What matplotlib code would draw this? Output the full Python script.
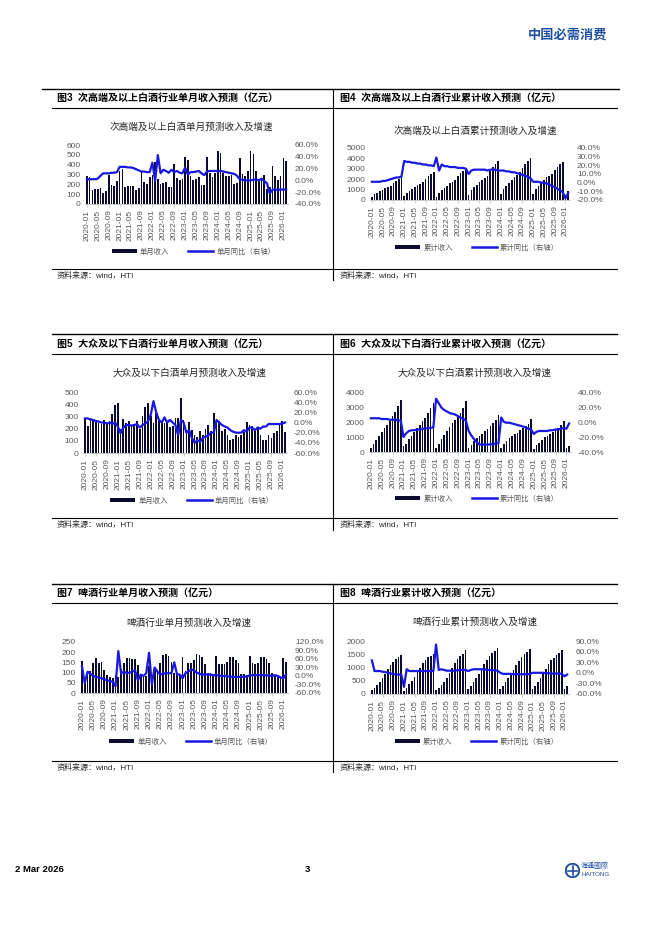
import numpy as np
import matplotlib
matplotlib.use("Agg")
import matplotlib.pyplot as plt
from matplotlib.lines import Line2D
from matplotlib.patches import Patch, Circle

plt.rcParams['font.family'] = ['Liberation Sans', 'Noto Sans CJK SC', 'DejaVu Sans']
plt.rcParams['axes.unicode_minus'] = False

W, H = 662, 936
BAR = '#0b0b30'
LINE = '#1818e0'
GREY = '#595959'

# months 2020-01 .. 2026-02
months = [f"{y}-{m:02d}" for y in range(2020, 2027) for m in range(1, 13)][:74]
tick_pos = list(range(0, 74, 4))
tick_lab = [months[i] for i in tick_pos]

# 图3 次高端及以上 单月收入 (亿元) / 单月同比 (%)
hi_month = [280, 270, 140, 150, 150, 160, 115, 135, 290, 195, 180, 230,
            340, 360, 170, 180, 180, 180, 140, 160, 340, 220, 200, 270,
            300, 430, 250, 200, 210, 220, 170, 170, 410, 260, 240, 250,
            480, 450, 280, 240, 250, 270, 190, 190, 480, 320, 270, 320,
            540, 520, 320, 280, 280, 300, 200, 210, 470, 310, 280, 340,
            540, 510, 340, 250, 260, 300, 150, 170, 390, 280, 240, 280,
            470, 440]
hi_month_yoy = [2, 2, 2, 2, 3, 8, 12, 12, 12, 13, 13, 14,
                23, 23, 23, 22, 22, 21, 19, 17, 15, 15, 14, 14,
                30, -1, 43, 12, 18, 16, 13, 18, 14, 16, 13, 12,
                22, 10, 14, 14, 15, 16, 12, 9, 15, 16, 16, 16,
                16, 16, 15, 14, 13, 12, 11, 8, 2, 1, 0, 0,
                0, 1, 2, 0, 3, -1, -5, -22, -16, -15, -17, -15,
                -16, -15]

# 图4 次高端及以上 累计收入 / 累计同比
hi_cum = [270, 530, 680, 830, 980, 1130, 1250, 1380, 1650, 1840, 2010, 2200,
          340, 700, 870, 1050, 1230, 1410, 1550, 1710, 2050, 2270, 2470, 2740,
          300, 720, 960, 1160, 1370, 1590, 1760, 1930, 2330, 2580, 2810, 3010,
          480, 930, 1210, 1450, 1700, 1970, 2160, 2350, 2830, 3150, 3420, 3720,
          540, 1060, 1380, 1660, 1940, 2240, 2440, 2650, 3120, 3430, 3710, 4000,
          540, 1050, 1390, 1640, 1900, 2200, 2350, 2520, 2910, 3190, 3430, 3650,
          470, 910]
hi_cum_yoy = [1, 1, 1, 1, 2, 2, 3, 4, 5, 6, 6, 7,
              25, 24, 24, 23, 23, 22, 22, 21, 21, 20, 20, 19,
              29, 14, 21, 19, 19, 18, 18, 18, 17, 17, 17, 16,
              10, 14, 15, 15, 15, 15, 15, 14, 15, 15, 15, 14,
              14, 14, 13, 13, 12, 12, 11, 10, 9, 8, 7, 5,
              1, 1, 1, 0, 0, -1, -2, -4, -5, -7, -9, -11,
              -18, -12]

# 图5 大众及以下 单月收入 / 单月同比
mass_month = [285, 220, 290, 260, 255, 250, 240, 270, 245, 260, 320, 390,
              410, 200, 280, 250, 260, 220, 240, 260, 200, 300, 380, 410,
              300, 250, 330, 270, 260, 250, 250, 210, 220, 290, 290, 450,
              270, 190, 255, 190, 150, 130, 180, 150, 200, 230, 180, 330,
              280, 260, 180, 200, 150, 110, 115, 150, 130, 150, 170, 255,
              230, 220, 180, 200, 150, 110, 110, 150, 120, 160, 180, 240,
              260, 175]
mass_month_yoy = [8, 8, 6, 5, 3, 2, 0, 0, -2, 0, -3, 0,
                  -8, -21, -10, -5, -5, -6, -5, -3, -10, -5, -2, 2,
                  15, 42, 20, 5, 0, 10, 0, 5, 0, -5, -25, 5,
                  0, -20, -15, -30, -40, -35, -38, -30, -28, -25, -20, -20,
                  5, 0, -5, -8, -10, -15, -18, -20, -20, -20, -15, -18,
                  -10, -10, -15, -10, -12, -8, -8, -3, -3, -3, -3, -3,
                  -2, 0]

# 图6 大众及以下 累计收入 / 累计同比
mass_cum = [290, 510, 800, 1070, 1330, 1580, 1820, 2100, 2400, 2700, 3070, 3450,
            380, 560, 840, 1090, 1350, 1570, 1810, 2070, 2270, 2570, 2950, 3300,
            300, 550, 880, 1150, 1410, 1660, 1910, 2120, 2340, 2630, 2920, 3370,
            270, 460, 720, 910, 1060, 1190, 1370, 1520, 1720, 1950, 2130, 2460,
            280, 540, 720, 920, 1070, 1180, 1300, 1450, 1580, 1730, 1900, 2180,
            230, 450, 630, 830, 980, 1090, 1200, 1350, 1470, 1630, 1810, 2080,
            250, 400]
mass_cum_yoy = [5, 5, 5, 5, 4, 4, 4, 3, 3, 3, 2, 2,
                -20, -15, -12, -11, -11, -10, -10, -9, -9, -8, -8, -7,
                31, 25, 19, 16, 14, 12, 11, 10, 8, 6, 4, 2,
                -12, -18, -23, -27, -30, -30, -30, -30, -30, -29, -29, -28,
                6, 0, -1, -1, -2, -3, -4, -5, -6, -7, -9, -10,
                -16, -13, -12, -12, -12, -12, -11, -11, -10, -10, -9, -8,
                -9, -2]

# 图7 啤酒 单月收入 / 单月同比
beer_month = [155, 75, 105, 110, 145, 170, 145, 150, 115, 90, 80, 75,
              90, 80, 120, 145, 170, 170, 165, 165, 135, 85, 80, 85,
              130, 85, 120, 115, 145, 185, 190, 180, 150, 100, 95, 90,
              175, 110, 145, 145, 160, 190, 185, 175, 140, 100, 100, 90,
              180, 140, 140, 140, 150, 175, 175, 160, 145, 95, 95, 90,
              180, 145, 140, 145, 175, 175, 165, 145, 100, 90, 90, 80,
              170, 150]
beer_month_yoy = [35, -25, 15, 8, 0, -3, -5, -8, -12, -15, -18, -20,
                  -37, 88, 10, 15, 10, 12, 15, 20, -15, 5, 0, 10,
                  82, -30, 30, 15, 5, 8, 10, 10, 10, 48, 6, 5,
                  -8, 10, 15, 23, 20, 12, 8, 5, 5, 5, 5, 3,
                  3, 2, 0, 0, -1, -2, -3, -3, -3, -3, -2, -2,
                  2, 3, 3, 3, 3, 3, 2, 2, 0, 3, 0, -5,
                  -8, 5]

# 图8 啤酒 累计收入 / 累计同比
beer_cum = [150, 240, 350, 460, 600, 760, 930, 1080, 1220, 1330, 1410, 1470,
            120, 240, 360, 500, 660, 830, 1000, 1160, 1290, 1380, 1450, 1510,
            140, 230, 340, 460, 610, 790, 980, 1160, 1310, 1420, 1520, 1650,
            170, 300, 440, 590, 750, 940, 1120, 1300, 1440, 1540, 1640, 1730,
            180, 320, 460, 600, 750, 920, 1100, 1260, 1400, 1500, 1590, 1690,
            180, 320, 460, 610, 790, 960, 1120, 1270, 1370, 1460, 1560, 1660,
            170, 320]
beer_cum_yoy = [35, 5, 5, 5, 3, 2, 0, -2, -3, -5, -5, -5,
                -40, 10, 5, 5, 5, 5, 5, 5, 5, 5, 5, 5,
                80, 8, 10, 8, 6, 6, 6, 6, 7, 8, 8, 8,
                5, 8, 10, 10, 10, 10, 10, 8, 8, 7, 7, 6,
                0, -3, -3, -3, -3, -4, -4, -4, -4, -4, -4, -4,
                0, 0, 0, 0, 0, -1, -1, -2, -2, -2, -2, -3,
                -10, -5]

fig = plt.figure(figsize=(W / 100, H / 100), dpi=100)


def fx(x):
    return x / W


def fy(y):
    return 1 - y / H


def hline(y, x0, x1, lw=0.8):
    fig.add_artist(Line2D([fx(x0), fx(x1)], [fy(y), fy(y)], color='black', lw=lw,
                          transform=fig.transFigure))


def vline(x, y0, y1, lw=0.8):
    fig.add_artist(Line2D([fx(x), fx(x)], [fy(y0), fy(y1)], color='black', lw=lw,
                          transform=fig.transFigure))


def panel(rect, bars, growth, ylim, yticks, glim, gticks, title, title_y, leg_y, labels):
    l, t, r, b = rect
    ax = fig.add_axes([fx(l), fy(b), fx(r - l), (b - t) / H])
    x = np.arange(len(bars))
    ax.bar(x, bars, width=0.62, color=BAR, zorder=2)
    ax.set_xlim(-0.7, len(bars) - 0.3)
    ax.set_ylim(*ylim)
    ax.set_yticks(yticks)
    ax.set_xticks(tick_pos)
    ax.set_xticklabels(tick_lab, rotation=90)
    ax2 = ax.twinx()
    ax2.plot(x, growth, color=LINE, lw=1.6, solid_joinstyle='round')
    ax2.set_ylim(*glim)
    ax2.set_yticks(gticks)
    ax2.set_yticklabels([f"{v:.1f}%" for v in gticks])
    for a in (ax, ax2):
        for s in a.spines.values():
            s.set_visible(False)
    ax.spines['bottom'].set_visible(True)
    ax.spines['bottom'].set_color('#bfbfbf')
    ax.spines['bottom'].set_linewidth(0.6)
    ax.tick_params(axis='y', length=0, labelsize=6, colors=GREY, pad=3)
    ax.tick_params(axis='x', length=2, width=0.5, color='#bfbfbf', labelsize=6,
                   labelcolor=GREY, pad=2)
    ax2.tick_params(axis='y', length=0, labelsize=6, colors=GREY, pad=5)
    cx = (l + r) / 2 + 5
    fig.text(fx(cx), fy(title_y), title, ha='center', va='center', fontsize=6.9,
             color='#262626')
    handles = [Patch(facecolor=BAR, edgecolor='none'), Line2D([], [], color=LINE, lw=1.8)]
    fig.legend(handles, labels, loc='center', bbox_to_anchor=(fx(cx + 2), fy(leg_y)),
               ncol=2, frameon=False, fontsize=5.3, handlelength=3.4, handleheight=0.45,
               columnspacing=2.6, handletextpad=0.4, labelcolor=GREY)
    return ax


# header
fig.text(fx(607), fy(35), "中国必需消费", ha='right', va='center', fontsize=9.5,
         color='#1f4fa0', fontweight='bold')
hline(89, 42, 619, lw=1.0)

rows = [(89, 108, 269, 98, 280), (334, 354, 518, 344, 530), (584, 603, 761, 593, 772)]
for top, under, bottom, ty, vend in rows:
    if top != 89:
        hline(top, 52, 617, lw=1.0)
    hline(under, 52, 617)
    hline(bottom, 52, 617)
    vline(333, top, vend)

src = "资料来源：wind，HTI"
for (top, under, bottom, ty, vend) in rows:
    fig.text(fx(57), fy(bottom + 7), src, ha='left', va='center', fontsize=5.8, color='#262626')
    fig.text(fx(340), fy(bottom + 7), src, ha='left', va='center', fontsize=5.8, color='#262626')

fig.text(fx(57), fy(98), "图3  次高端及以上白酒行业单月收入预测（亿元）", fontsize=7.2,
         fontweight='bold', va='center')
fig.text(fx(340), fy(98), "图4  次高端及以上白酒行业累计收入预测（亿元）", fontsize=7.2,
         fontweight='bold', va='center')
fig.text(fx(57), fy(344), "图5  大众及以下白酒行业单月收入预测（亿元）", fontsize=7.2,
         fontweight='bold', va='center')
fig.text(fx(340), fy(344), "图6  大众及以下白酒行业累计收入预测（亿元）", fontsize=7.2,
         fontweight='bold', va='center')
fig.text(fx(57), fy(593), "图7  啤酒行业单月收入预测（亿元）", fontsize=7.2,
         fontweight='bold', va='center')
fig.text(fx(340), fy(593), "图8  啤酒行业累计收入预测（亿元）", fontsize=7.2,
         fontweight='bold', va='center')

lab_m = ["单月收入", "单月同比（右轴）"]
lab_c = ["累计收入", "累计同比（右轴）"]

panel((85, 145, 288, 204), hi_month, hi_month_yoy, (0, 600), range(0, 601, 100),
      (-40, 60), list(range(-40, 61, 20)), "次高端及以上白酒单月预测收入及增速", 127, 252, lab_m)
panel((370, 148, 570, 200), hi_cum, hi_cum_yoy, (0, 5000), range(0, 5001, 1000),
      (-20, 40), list(range(-20, 41, 10)), "次高端及以上白酒累计预测收入及增速", 131, 248, lab_c)
panel((83, 392, 287, 453), mass_month, mass_month_yoy, (0, 500), range(0, 501, 100),
      (-60, 60), list(range(-60, 61, 20)), "大众及以下白酒单月预测收入及增速", 373, 501, lab_m)
panel((369, 392, 571, 452), mass_cum, mass_cum_yoy, (0, 4000), range(0, 4001, 1000),
      (-40, 40), list(range(-40, 41, 20)), "大众及以下白酒累计预测收入及增速", 373, 499, lab_c)
panel((80, 642, 288, 693), beer_month, beer_month_yoy, (0, 250), range(0, 251, 50),
      (-60, 120), list(range(-60, 121, 30)), "啤酒行业单月预测收入及增速", 623, 742, lab_m)
panel((370, 641, 569, 694), beer_cum, beer_cum_yoy, (0, 2000), range(0, 2001, 500),
      (-60, 90), list(range(-60, 91, 30)), "啤酒行业累计预测收入及增速", 622, 742, lab_c)

# footer
fig.text(fx(15), fy(869), "2 Mar 2026", fontsize=6.8, fontweight='bold', va='center')
fig.text(fx(305), fy(869), "3", fontsize=6.8, fontweight='bold', va='center')
lg = fig.add_axes([fx(565), fy(878), fx(15), 15 / H])
lg.set_xlim(-1, 1)
lg.set_ylim(-1, 1)
lg.add_patch(Circle((0, 0), 0.9, facecolor='none', edgecolor='#1f4fa0', lw=1.4))
lg.plot([-0.6, 0.6], [0, 0], color='#1f4fa0', lw=1.2)
lg.plot([0, 0], [-0.6, 0.6], color='#1f4fa0', lw=1.2)
lg.axis('off')
fig.text(fx(581), fy(866), "海通國際", fontsize=5, color='#1f4fa0', va='center')
fig.text(fx(581), fy(874), "HAITONG", fontsize=4.5, color='#1f4fa0', va='center')

fig.savefig("out.png", dpi=100)
